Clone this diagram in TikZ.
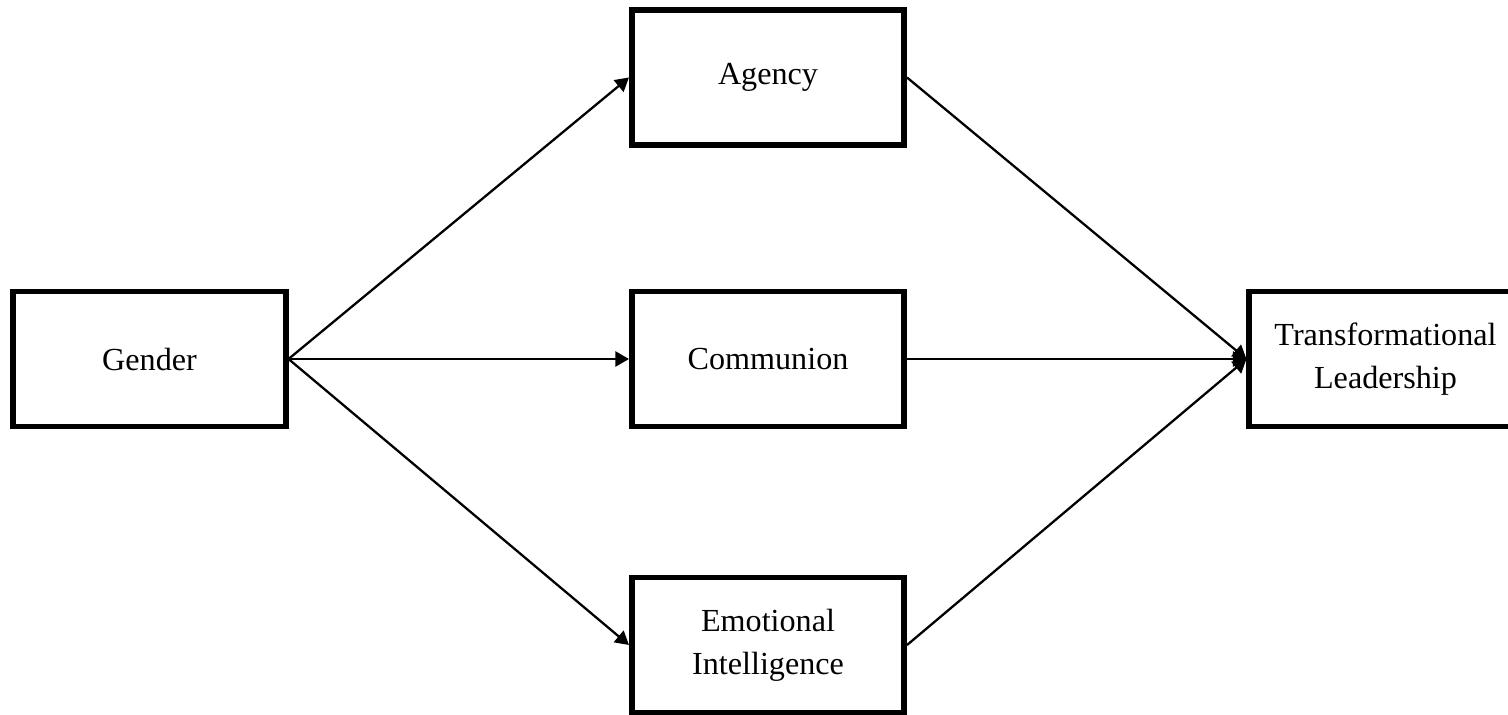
\documentclass[tikz,border=0pt]{standalone}
\usepackage{fontspec}
\setmainfont{Liberation Serif}
\usetikzlibrary{arrows.meta,positioning}

\begin{document}
\begin{tikzpicture}[x=0.02cm,y=-0.02cm,>={Triangle[length=0.27cm,width=0.3cm]},
  box/.style={draw,line width=3.2pt,align=center,inner sep=0pt,minimum width=5.45cm,minimum height=2.7cm,font=\fontsize{18.3}{24.5}\selectfont},
  link/.style={->,line width=1.3pt}]
      \useasboundingbox (0,0) rectangle (1508,714);
      \clip (0,0) rectangle (1508,714);
      \node[box] (g) at (149.5,359) {Gender};
      \node[box] (a) at (768,77.5) {Agency};
      \node[box] (c) at (768,359) {Communion};
      \node[box] (e) at (768,645) {Emotional\\Intelligence};
      \node[box] (t) at (1385.5,359) {Transformational\\Leadership};
      \draw[link] (g.east)--(a.west);
      \draw[link] (g.east)--(c.west);
      \draw[link] (g.east)--(e.west);
      \draw[link] (a.east)--(t.west);
      \draw[link] (c.east)--(t.west);
      \draw[link] (e.east)--(t.west);
\end{tikzpicture}
\end{document}
